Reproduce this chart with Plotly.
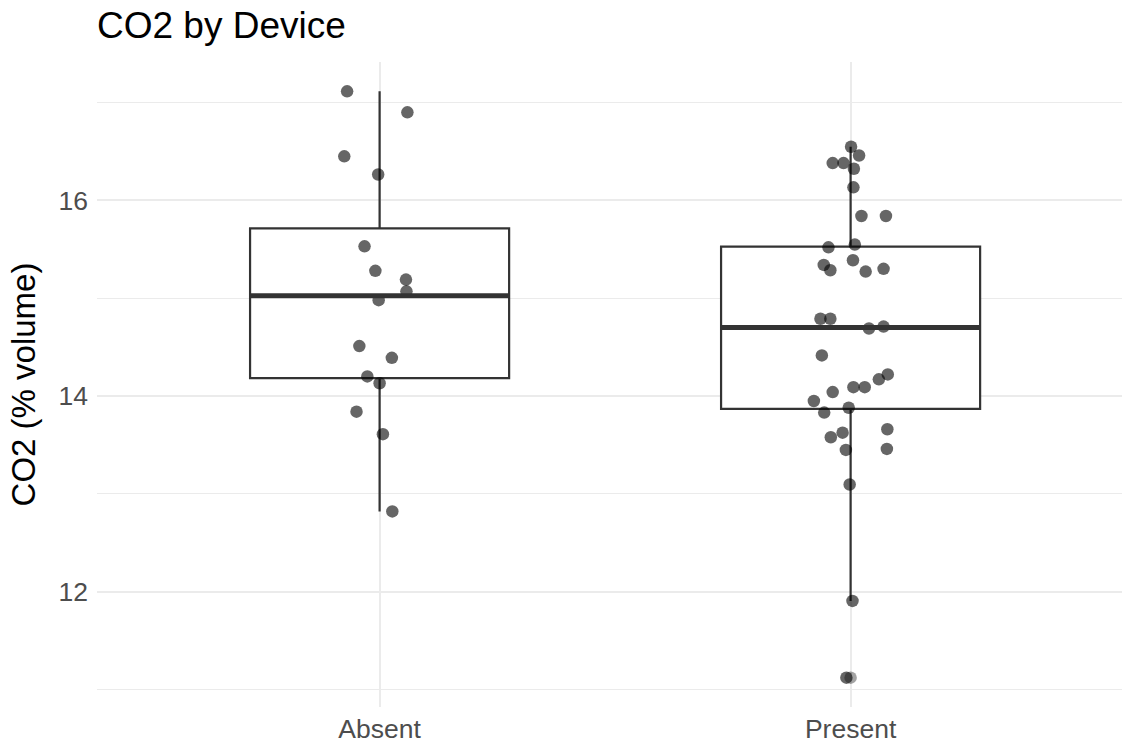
import numpy as np
import plotly.graph_objects as go

# ---- data ----
categories = ["Absent", "Present"]

absent_co2 = [17.115, 16.90, 16.45, 16.265, 15.53, 15.28, 15.19, 15.07, 14.98,
              14.51, 14.39, 14.20, 14.13, 13.84, 13.61, 12.82]
absent_jitter = [-0.069, 0.059, -0.075, -0.003, -0.032, -0.009, 0.056, 0.057, -0.002,
                 -0.043, 0.026, -0.026, 0.000, -0.049, 0.007, 0.027]

present_co2 = [16.548, 16.459, 16.381, 16.381, 16.323, 16.133, 15.84, 15.84, 15.52,
               15.548, 15.34, 15.286, 15.388, 15.272, 15.30, 14.79, 14.79, 14.69,
               14.71, 14.415, 14.221, 14.17, 14.04, 14.09, 14.09, 13.949, 13.83,
               13.88, 13.66, 13.625, 13.578, 13.449, 13.459, 13.095, 11.905, 11.12]
present_jitter = [0.001, 0.018, -0.038, -0.015, 0.007, 0.006, 0.023, 0.075, -0.047,
                  0.009, -0.057, -0.043, 0.005, 0.032, 0.070, -0.064, -0.043, 0.039,
                  0.070, -0.061, 0.079, 0.060, -0.038, 0.006, 0.030, -0.078, -0.056,
                  -0.004, 0.078, -0.017, -0.042, -0.010, 0.077, -0.002, 0.004, -0.009]

groups = [absent_co2, present_co2]
jitters = [absent_jitter, present_jitter]

# ---- style ----
BOX_W = 0.55
LINE_C = "#333333"
GRID_C = "#ebebeb"
FONT = "Liberation Sans, Arial, Helvetica, sans-serif"

fig = go.Figure()
shapes = []


def stats(vals):
    v = np.asarray(vals, dtype=float)
    q1, med, q3 = np.percentile(v, [25, 50, 75])
    iqr = q3 - q1
    lo_lim, hi_lim = q1 - 1.5 * iqr, q3 + 1.5 * iqr
    inside = v[(v >= lo_lim) & (v <= hi_lim)]
    outl = v[(v < lo_lim) | (v > hi_lim)]
    return q1, med, q3, inside.min(), inside.max(), outl


for i, (cat, vals) in enumerate(zip(categories, groups)):
    q1, med, q3, lo, hi, outl = stats(vals)
    fig.add_trace(go.Box(
        x=[i], q1=[q1], median=[med], q3=[q3], lowerfence=[lo], upperfence=[hi],
        width=BOX_W, fillcolor="white", line=dict(color=LINE_C, width=2.2),
        whiskerwidth=0, boxpoints=False, hoverinfo="skip", showlegend=False,
    ))
    shapes.append(dict(type="line", xref="x", yref="y",
                       x0=i - BOX_W / 2, x1=i + BOX_W / 2, y0=med, y1=med,
                       line=dict(color=LINE_C, width=5), layer="above"))
    if len(outl):
        fig.add_trace(go.Scatter(
            x=[i] * len(outl), y=list(outl), mode="markers",
            marker=dict(size=12.5, color="rgba(51,51,51,0.45)", line=dict(width=0)),
            showlegend=False, hoverinfo="skip"))

for i, (vals, jit) in enumerate(zip(groups, jitters)):
    fig.add_trace(go.Scatter(
        x=[i + j for j in jit], y=vals, mode="markers",
        marker=dict(size=12.5, color="rgba(0,0,0,0.6)", line=dict(width=0)),
        showlegend=False, hoverinfo="skip"))

all_vals = absent_co2 + present_co2
ymin, ymax = min(all_vals), max(all_vals)
span = ymax - ymin
yrange = [ymin - 0.05 * span, ymax + 0.05 * span]

fig.update_layout(
    width=1122, height=744,
    margin=dict(l=97, r=0, t=62, b=32),
    paper_bgcolor="white", plot_bgcolor="white",
    font=dict(family=FONT, color="black"),
    title=dict(text="CO2 by Device", x=97 / 1122, xref="container", xanchor="left",
               y=1 - 12 / 744, yref="container", yanchor="top",
               font=dict(size=37, color="black", family=FONT)),
    shapes=shapes,
    xaxis=dict(range=[-0.6, -0.6 + 1025 / 471], tickvals=list(range(len(categories))),
               ticktext=categories, showgrid=True, gridcolor=GRID_C, gridwidth=2,
               zeroline=False, showline=False, ticks="",
               ticklabelstandoff=3,
               tickfont=dict(size=26.5, color="#4d4d4d", family=FONT)),
    yaxis=dict(range=yrange, tickvals=[12, 14, 16], showgrid=True, gridcolor=GRID_C,
               gridwidth=2, zeroline=False, showline=False, ticks="",
               minor=dict(tickvals=[11, 13, 15, 17], showgrid=True, gridcolor=GRID_C,
                          gridwidth=1),
               tickfont=dict(size=26.5, color="#4d4d4d", family=FONT),
               ticklabelstandoff=8,
               title=dict(text="CO2 (% volume)", standoff=12,
                          font=dict(size=33, color="black", family=FONT))),
)

fig.write_html("out.html", config={"displayModeBar": False},
               post_script="document.body.style.margin='0px';")
